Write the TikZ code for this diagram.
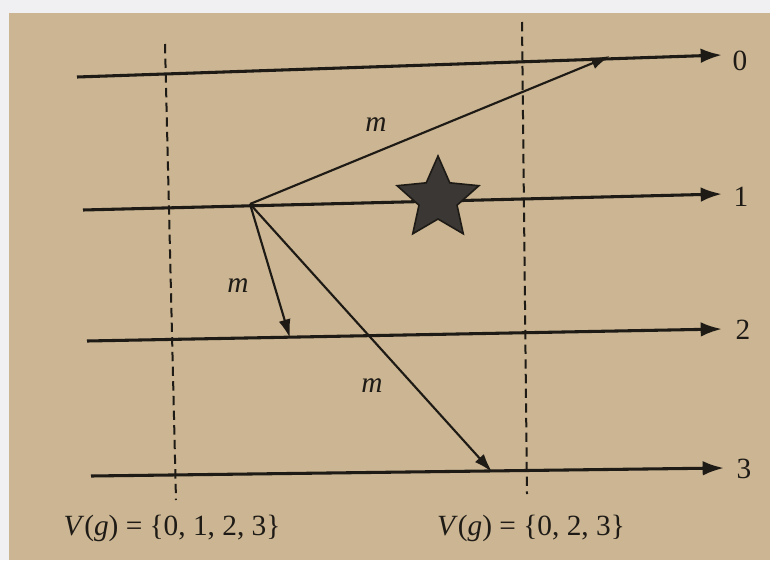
\documentclass[tikz,border=0pt]{standalone}
\usepackage{fontspec}
\setmainfont{Liberation Serif}
\usetikzlibrary{arrows.meta,shapes.geometric}
\definecolor{paper}{RGB}{203,181,146}
\definecolor{edgegray}{RGB}{240,240,242}
\definecolor{ink}{RGB}{30,26,22}
\definecolor{starfill}{RGB}{58,55,52}
\tikzset{
  timeline/.style={draw=ink, line width=2.3pt, -{Latex[length=16pt,width=11pt]}},
  msg/.style={draw=ink, line width=1.6pt, -{Latex[length=14pt,width=9pt]}},
  cut/.style={draw=ink, line width=1.5pt, dash pattern=on 7pt off 4pt},
  lbl/.style={font=\fontsize{22}{26}\selectfont, text=ink, inner sep=0pt},
  mlbl/.style={font=\fontsize{22}{26}\selectfont\itshape, text=ink, inner sep=0pt},
}
\begin{document}
\begin{tikzpicture}[x=0.75pt,y=-0.75pt]
\useasboundingbox (0,0) rectangle (770,560);
\fill[edgegray] (0,0) rectangle (770,560);
\fill[paper] (9,13) rectangle (770,560);
% process line endpoints
\coordinate (s0) at (77,77);  \coordinate (e0) at (722,55);
\coordinate (s1) at (83,210); \coordinate (e1) at (722,194);
\coordinate (s2) at (87,341); \coordinate (e2) at (722,329);
\coordinate (s3) at (91,476); \coordinate (e3) at (724,468);
% cuts
\coordinate (c1t) at (165,44); \coordinate (c1b) at (176,500);
\coordinate (c2t) at (522,22); \coordinate (c2b) at (527,494);
% messages
\coordinate (snd) at (250,204);
\coordinate (r0) at (610,56);
\coordinate (r2) at (290,338);
\coordinate (r3) at (492,472);
\draw[cut] (c1t) -- (c1b);
\draw[cut] (c2t) -- (c2b);
\draw[timeline] (s0) -- (e0);
\draw[timeline] (s1) -- (e1);
\draw[timeline] (s2) -- (e2);
\draw[timeline] (s3) -- (e3);
\draw[msg] (snd) -- (r0);
\draw[msg] (snd) -- (r2);
\draw[msg] (snd) -- (r3);
\node[star, star points=5, star point ratio=2.15, minimum size=86pt*0.75, inner sep=0pt,
      fill=starfill, draw=ink, line width=1.2pt] (star) at (438,199) {};
\node[lbl] (p0) at (740,61) {0};
\node[lbl] (p1) at (741,197) {1};
\node[lbl] (p2) at (743,330) {2};
\node[lbl] (p3) at (744,469) {3};
\node[mlbl] (m0) at (376,125) {m};
\node[mlbl] (m2) at (238,286) {m};
\node[mlbl] (m3) at (372,386) {m};
\node[lbl] (v1) at (172,528) {\textit{V}(\textit{g}) = \{0, 1, 2, 3\}};
\node[lbl] (v2) at (531,528) {\textit{V}(\textit{g}) = \{0, 2, 3\}};
\end{tikzpicture}
\end{document}
